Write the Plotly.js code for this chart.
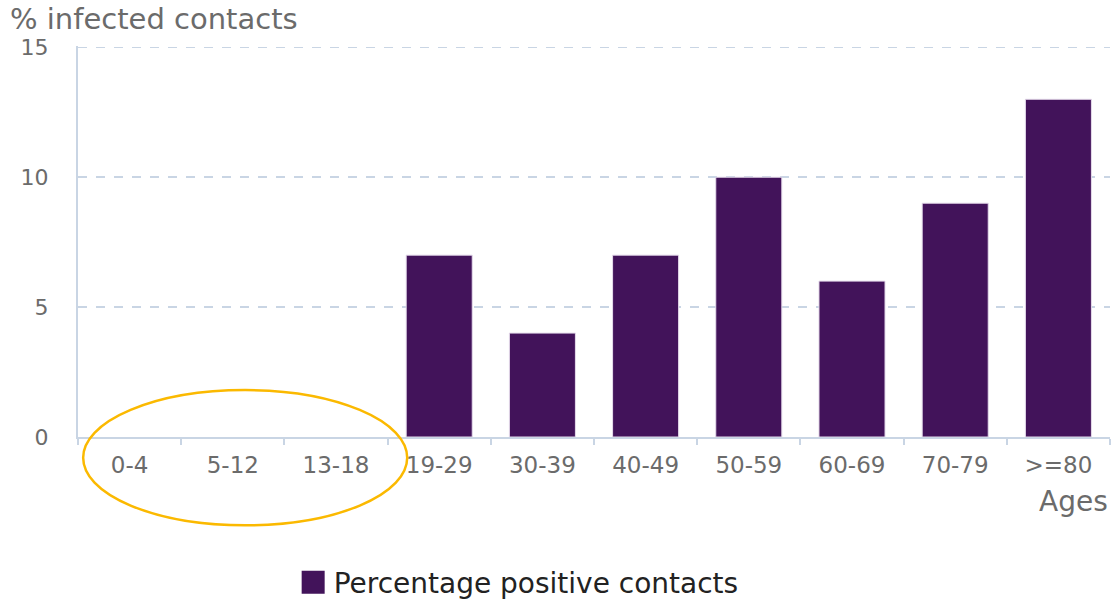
<!DOCTYPE html>
<html>
<head>
<meta charset="utf-8">
<script src="https://cdn.plot.ly/plotly-3.0.1.min.js"></script>
<style>html,body{margin:0;padding:0;background:#fff;}#chart{width:1116px;height:603px;}</style>
</head>
<body>
<div id="chart"></div>
<script>
const ageGroups = ["0-4", "5-12", "13-18", "19-29", "30-39", "40-49", "50-59", "60-69", "70-79", ">=80"];
const percentPositive = [0, 0, 0, 7, 4, 7, 10, 6, 9, 13];
const seriesName = "Percentage positive contacts";
const yTicks = [0, 5, 10, 15];

const font = "DejaVu Sans, Verdana, sans-serif";
const gray = "#6b6b6b";
const axisColor = "#c9d5e4";

const trace = {
  type: "bar",
  x: ageGroups,
  y: percentPositive,
  name: seriesName,
  marker: {color: "#42135a", line: {color: "#e6dcec", width: percentPositive.map(v => v > 0 ? 1 : 0)}},
  showlegend: true
};

const layout = {
  width: 1116, height: 603,
  margin: {l: 78, r: 6, t: 46, b: 166, autoexpand: false},
  paper_bgcolor: "#fff", plot_bgcolor: "#fff",
  font: {family: font, color: gray},
  bargap: 0.36,
  xaxis: {
    type: "category",
    showline: true, linecolor: axisColor, linewidth: 2,
    ticks: "outside", tickson: "boundaries", ticklen: 6, tickcolor: axisColor, tickwidth: 2,
    tickfont: {size: 23, color: gray},
    ticklabelstandoff: 6,
    showgrid: false, zeroline: false
  },
  yaxis: {
    range: [0, 15.05], tickvals: yTicks,
    showline: true, linecolor: axisColor, linewidth: 2,
    ticks: "", tickfont: {size: 22, color: gray},
    ticklabelstandoff: 23,
    showgrid: true, gridcolor: axisColor, griddash: "dash", gridwidth: 1.5,
    zeroline: false
  },
  legend: {
    orientation: "h", x: 0.427, xanchor: "center", y: -0.372, yanchor: "middle",
    font: {size: 28, color: "#222"}, tracegroupgap: 0
  },
  annotations: [
    {text: "% infected contacts", xref: "paper", yref: "paper", x: -0.068, y: 1.07,
     xanchor: "left", yanchor: "middle", showarrow: false, font: {size: 29, color: gray}},
    {text: "Ages", xref: "paper", yref: "paper", x: 1.0, y: -0.165,
     xanchor: "right", yanchor: "middle", showarrow: false, font: {size: 28, color: gray}}
  ],
  shapes: [
    {type: "circle", xref: "paper", yref: "paper", x0: 0.005, x1: 0.319, y0: -0.226, y1: 0.12,
     line: {color: "#fbb900", width: 2.5}, fillcolor: "rgba(0,0,0,0)"}
  ]
};

Plotly.newPlot("chart", [trace], layout, {displayModeBar: false, staticPlot: true}).then(() => {
  document.querySelectorAll(".legend .legendpoints path").forEach(p => {
    p.setAttribute("d", "M11,11.5H-12V-11.5H11Z");
  });
});
</script>
</body>
</html>
